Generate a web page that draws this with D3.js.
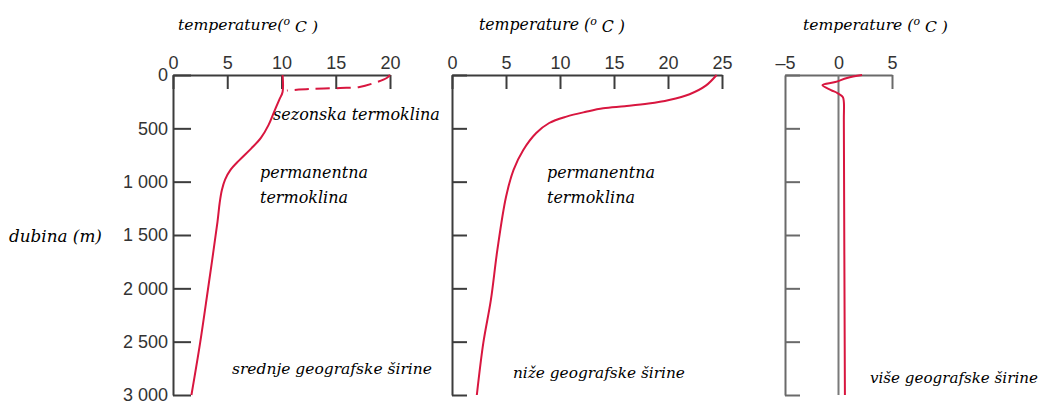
<!DOCTYPE html>
<html>
<head>
<meta charset="utf-8">
<script src="https://cdn.jsdelivr.net/npm/d3@7"></script>
<style>
  html, body { margin: 0; padding: 0; background: #fff; }
  svg { display: block; }
  .lbl { font-family: "DejaVu Serif", serif; font-style: italic; fill: #000; }
  .tick text { font-family: "Liberation Sans", Arial, sans-serif; font-size: 18px; fill: #333; }
</style>
</head>
<body>
<svg id="chart" width="1040" height="401"></svg>
<script>
// ---------------- data ----------------
const depthTicks = [0, 500, 1000, 1500, 2000, 2500, 3000];
const midTempTicks = [0, 5, 10, 15, 20];
const lowTempTicks = [0, 5, 10, 15, 20, 25];
const highTempTicks = [-5, 0, 5];

// middle latitudes: seasonal (dashed) thermocline
const midSeasonTemp  = [20, 19.7, 18.8, 17.2, 15.4, 12.6, 10.5];
const midSeasonDepth = [0, 28, 66, 112, 122, 131, 145];
// middle latitudes: permanent profile
const midTemp  = [10.1, 10.1, 9.8, 9.3, 8.8, 8.1, 7.2, 6.1, 5.3, 4.8, 4.5, 4.3, 4.1, 3.2, 2.5, 1.7];
const midDepth = [0, 160, 230, 350, 470, 590, 690, 800, 890, 980, 1080, 1200, 1378, 2025, 2512, 3000];
// lower latitudes
const lowTemp  = [24.5, 23.5, 22.0, 20.1, 18.2, 16.0, 14.0, 12.4, 10.6, 9.0, 7.8, 6.6, 5.7, 5.0, 4.2, 3.6, 2.9, 2.3];
const lowDepth = [0, 100, 180, 234, 268, 293, 312, 345, 390, 450, 544, 703, 890, 1144, 1640, 2109, 2512, 3000];
// higher latitudes
const highTemp  = [2.2, 0.8, -0.3, -1.5, -0.7, -0.1, 0.4, 0.5, 0.5, 0.6];
const highDepth = [0, 28, 66, 94, 141, 169, 206, 253, 422, 3000];

const titleWord = "temperature";
const titleUnit = ["(", "o", " C )"];
const depthLabel = "dubina (m)";
const seasonalLabel = "sezonska termoklina";
const permanentLabel = ["permanentna", "termoklina"];
const zoneLabels = ["srednje geografske širine", "niže geografske širine", "više geografske širine"];

// ---------------- drawing ----------------
const svg = d3.select("#chart");
const RED = "#d8163f";
const y = d3.scaleLinear().domain([0, 3000]).range([75, 395]);
const locale = d3.formatLocale({ decimal: ".", thousands: " ", grouping: [3], currency: ["", ""] });
const depthFmt = locale.format(",");

const panels = [
  { x: d3.scaleLinear().domain([0, 20]).range([173, 390]), ticks: midTempTicks, ylabels: true, ytick: 18, color: "#3c3c3c" },
  { x: d3.scaleLinear().domain([0, 25]).range([452, 722]), ticks: lowTempTicks, ylabels: false, ytick: 15, color: "#3c3c3c" },
  { x: d3.scaleLinear().domain([-5, 5]).range([785, 892]), ticks: highTempTicks, ylabels: false, ytick: 15, color: "#6a6a6a" }
];

function styleAxis(g, color) {
  g.select(".domain").attr("stroke", color).attr("stroke-width", 2);
  g.selectAll(".tick line").attr("stroke", color).attr("stroke-width", 2);
}

panels.forEach((p, i) => {
  const x0 = p.x.range()[0];
  const gx = svg.append("g").attr("transform", `translate(0,${y(0)})`)
    .call(d3.axisTop(p.x).tickValues(p.ticks).tickSizeInner(-14).tickSizeOuter(0).tickPadding(6)
      .tickFormat(d => d < 0 ? "–" + Math.abs(d) : d));
  styleAxis(gx, p.color);
  if (i === 2) gx.selectAll(".tick line").filter(d => d !== 5).remove();

  const gy = svg.append("g").attr("transform", `translate(${x0},0)`)
    .call(d3.axisLeft(y).tickValues(depthTicks).tickSizeInner(-p.ytick).tickSizeOuter(0).tickPadding(5)
      .tickFormat(p.ylabels ? depthFmt : () => ""));
  styleAxis(gy, p.color);
  gy.selectAll(".tick text").attr("text-anchor", "end");
});

svg.append("line")
  .attr("x1", panels[2].x(0)).attr("x2", panels[2].x(0))
  .attr("y1", y(0)).attr("y2", y(3000))
  .attr("stroke", "#7a7a7a").attr("stroke-width", 2);

function profile(xs, temps, depths, dashed) {
  const pts = temps.map((t, k) => [xs(t), y(depths[k])]);
  svg.append("path")
    .attr("d", d3.line().curve(d3.curveCatmullRom.alpha(0.5))(pts))
    .attr("fill", "none").attr("stroke", RED).attr("stroke-width", 2)
    .attr("stroke-dasharray", dashed ? "14,7" : null)
    .attr("stroke-linejoin", "round");
}
profile(panels[0].x, midSeasonTemp, midSeasonDepth, true);
profile(panels[0].x, midTemp, midDepth, false);
profile(panels[1].x, lowTemp, lowDepth, false);
profile(panels[2].x, highTemp, highDepth, false);

function fit(t, width) {
  const w = t.node().getComputedTextLength();
  let fs = 16 * width / w;
  fs = Math.max(12, Math.min(19, fs));
  t.style("font-size", fs + "px");
  return t;
}
function label(text, x, yb, width) {
  const t = svg.append("text").attr("class", "lbl").attr("x", x).attr("y", yb)
    .style("font-size", "16px").text(text);
  return fit(t, width);
}
function title(x, width, gap) {
  const t = svg.append("text").attr("class", "lbl").attr("x", x).attr("y", 30).style("font-size", "16px");
  t.append("tspan").text(titleWord + (gap ? " " : "") + titleUnit[0]);
  t.append("tspan").attr("dy", "-0.45em").style("font-size", "70%").text(titleUnit[1]);
  t.append("tspan").attr("dy", "0.45em").text(titleUnit[2]);
  return fit(t, width);
}
title(178, 140, false);
title(479, 146, true);
title(803, 145, true);
label(seasonalLabel, 273, 120, 167);
label(permanentLabel[0], 260, 178, 108);
label(permanentLabel[1], 260, 203, 88);
label(permanentLabel[0], 547, 178, 108);
label(permanentLabel[1], 547, 203, 88);
label(depthLabel, 9, 242, 93);
label(zoneLabels[0], 232, 374, 200);
label(zoneLabels[1], 513, 378, 172);
label(zoneLabels[2], 870, 383, 168);
</script>
</body>
</html>
